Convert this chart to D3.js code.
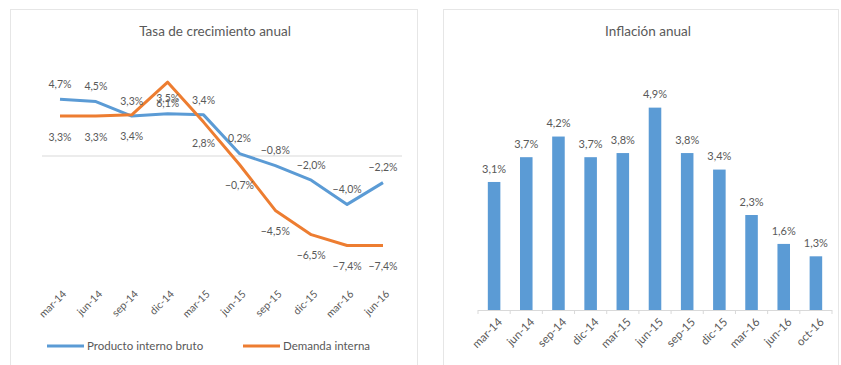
<!DOCTYPE html>
<html>
<head>
<meta charset="utf-8">
<script src="https://cdn.jsdelivr.net/npm/d3@7"></script>
<style>
  html, body { margin: 0; padding: 0; background: #fff; overflow: hidden; }
  svg { display: block; }
  text { font-family: Lato, "Open Sans", sans-serif; }
</style>
</head>
<body>
<svg id="chart" width="841" height="365"></svg>
<script>
// Growth panel: quarterly year-on-year growth (%)
const growthQuarters = ["mar-14", "jun-14", "sep-14", "dic-14", "mar-15", "jun-15", "sep-15", "dic-15", "mar-16", "jun-16"];
const gdpGrowth = [4.7, 4.5, 3.3, 3.5, 3.4, 0.2, -0.8, -2.0, -4.0, -2.2];
const domesticDemand = [3.3, 3.3, 3.4, 6.1, 2.8, -0.7, -4.5, -6.5, -7.4, -7.4];
const seriesNames = ["Producto interno bruto", "Demanda interna"];

// Inflation panel: annual inflation (%)
const inflationPeriods = ["mar-14", "jun-14", "sep-14", "dic-14", "mar-15", "jun-15", "sep-15", "dic-15", "mar-16", "jun-16", "oct-16"];
const inflation = [3.1, 3.7, 4.2, 3.7, 3.8, 4.9, 3.8, 3.4, 2.3, 1.6, 1.3];

const blue = "#5b9bd5", orange = "#ed7d31", textGray = "#595959", lineGray = "#d9d9d9";
const fmt = v => d3.format(".1f")(v).replace(".", ",") + "%";

const svg = d3.select("#chart");

// Panel frames
svg.append("rect").attr("x", 10.5).attr("y", 9.5).attr("width", 407).attr("height", 380)
  .attr("fill", "none").attr("stroke", "#e6e6e6");
svg.append("rect").attr("x", 443.5).attr("y", 9.5).attr("width", 395).attr("height", 380)
  .attr("fill", "none").attr("stroke", "#e6e6e6");

// ---------- Left panel: growth lines ----------
const left = svg.append("g");
left.append("text").attr("x", 215).attr("y", 36).attr("text-anchor", "middle")
  .attr("fill", textGray).style("font-size", "13.5px").text("Tasa de crecimiento anual");

const xL = d3.scalePoint().domain(growthQuarters).range([60, 383]);
const yL = d3.scaleLinear().domain([-10, 8]).range([277, 59.2]);

// Zero line
left.append("line").attr("x1", 42).attr("x2", 402)
  .attr("y1", yL(0)).attr("y2", yL(0)).attr("stroke", lineGray).attr("stroke-width", 1);

// Category labels along the bottom
const xAxisL = left.append("g").attr("transform", "translate(0,292)")
  .call(d3.axisBottom(xL).tickSize(0).tickPadding(0));
xAxisL.select(".domain").remove();
xAxisL.selectAll("text")
  .attr("fill", textGray).style("font-size", "10.5px")
  .attr("text-anchor", "end").attr("dy", "0.35em").attr("y", 0)
  .attr("transform", "translate(4,0) rotate(-45)");

const lineGen = d3.line().x((d, i) => xL(growthQuarters[i])).y(d => yL(d));
const series = [
  { name: seriesNames[0], values: gdpGrowth, color: blue, dy: -15 },
  { name: seriesNames[1], values: domesticDemand, color: orange, dy: 21 }
];
series.forEach(s => {
  left.append("path").datum(s.values).attr("d", lineGen)
    .attr("fill", "none").attr("stroke", s.color).attr("stroke-width", 3)
    .attr("stroke-linejoin", "round");
});
series.forEach(s => {
  left.append("g").selectAll("text").data(s.values).join("text")
    .attr("x", (d, i) => xL(growthQuarters[i]))
    .attr("y", d => yL(d) + s.dy)
    .attr("dy", "0.35em")
    .attr("text-anchor", "middle")
    .attr("fill", textGray).style("font-size", "10.5px")
    .text(fmt);
});

// Legend
const legend = left.append("g").attr("transform", "translate(0,346)");
const legendItems = [
  { name: seriesNames[0], color: blue, x: 47 },
  { name: seriesNames[1], color: orange, x: 243 }
];
legendItems.forEach(it => {
  legend.append("line").attr("x1", it.x).attr("x2", it.x + 37).attr("y1", 0).attr("y2", 0)
    .attr("stroke", it.color).attr("stroke-width", 3);
  legend.append("text").attr("x", it.x + 40).attr("y", 0).attr("dy", "0.35em")
    .attr("fill", textGray).style("font-size", "11.5px").text(it.name);
});

// ---------- Right panel: inflation bars ----------
const right = svg.append("g");
right.append("text").attr("x", 648).attr("y", 36).attr("text-anchor", "middle")
  .attr("fill", textGray).style("font-size", "13.5px").text("Inflación anual");

const xR = d3.scaleBand().domain(inflationPeriods).range([478, 832]).paddingInner(0.61).paddingOuter(0.305);
const yR = d3.scaleLinear().domain([0, 6]).range([310, 62.2]);

right.append("g").selectAll("rect").data(inflation).join("rect")
  .attr("x", (d, i) => xR(inflationPeriods[i]))
  .attr("width", xR.bandwidth())
  .attr("y", d => yR(d))
  .attr("height", d => yR(0) - yR(d))
  .attr("fill", blue);

right.append("g").selectAll("text").data(inflation).join("text")
  .attr("x", (d, i) => xR(inflationPeriods[i]) + xR.bandwidth() / 2)
  .attr("y", d => yR(d) - 13)
  .attr("dy", "0.35em")
  .attr("text-anchor", "middle")
  .attr("fill", textGray).style("font-size", "11px")
  .text(fmt);

// Baseline with tick marks between categories
right.append("line").attr("x1", 478).attr("x2", 832).attr("y1", yR(0) + 0.5).attr("y2", yR(0) + 0.5)
  .attr("stroke", lineGray);
const step = xR.step();
right.append("g").selectAll("line").data(d3.range(inflationPeriods.length + 1)).join("line")
  .attr("x1", i => 478 + i * step).attr("x2", i => 478 + i * step)
  .attr("y1", yR(0)).attr("y2", yR(0) + 4).attr("stroke", lineGray);

const xAxisR = right.append("g").attr("transform", "translate(0,320)")
  .call(d3.axisBottom(xR).tickSize(0).tickPadding(0));
xAxisR.select(".domain").remove();
xAxisR.selectAll("text")
  .attr("fill", textGray).style("font-size", "11.5px")
  .attr("text-anchor", "end").attr("dy", "0.35em").attr("y", 0)
  .attr("transform", "translate(6,0) rotate(-45)");
</script>
</body>
</html>
